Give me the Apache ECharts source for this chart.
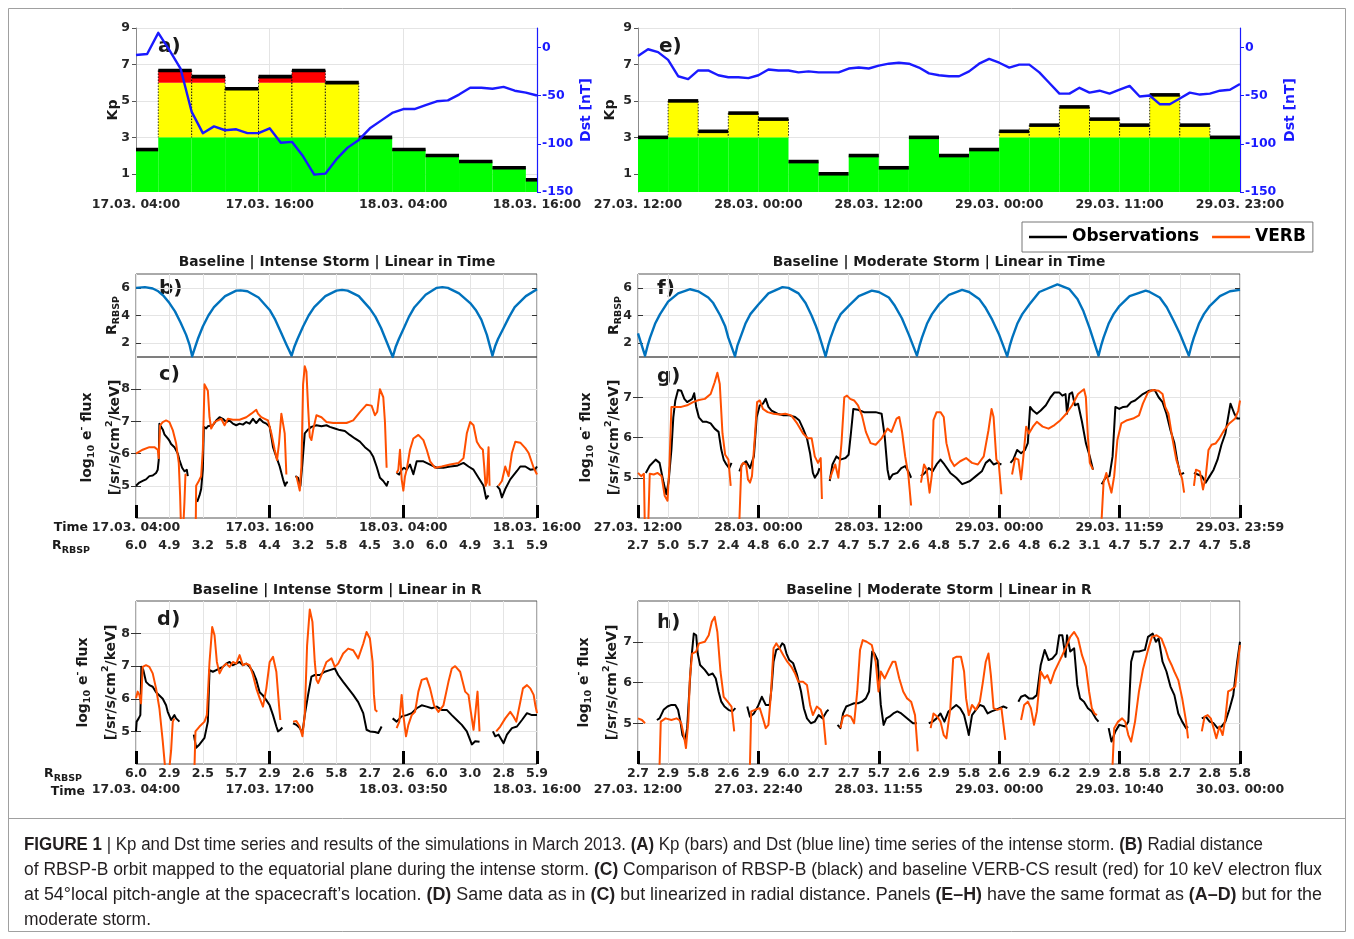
<!DOCTYPE html>
<html>
<head>
<meta charset="utf-8">
<script src="https://cdn.jsdelivr.net/npm/echarts@6/dist/echarts.min.js"></script>
<style>
html,body{margin:0;padding:0;background:#fff;}
#fig{width:1354px;height:939px;}
</style>
</head>
<body>
<div id="fig"></div>
<script>
// ---------- data ----------
// hours are counted from the first tick of each storm (17.03 04:00 / 27.03 12:00)
const kpIntense = [2.33, 6.67, 6.33, 5.67, 6.33, 6.67, 6.0, 3.0, 2.33, 2.0, 1.67, 1.33, 0.67];
const kpIntenseStart = -1;   // first 3-h interval begins 03:00
const dstIntense = [-8, -7, 15, -3, -22, -67, -89, -82, -86, -85, -89, -89, -84, -99, -98, -113, -132, -131, -116,
  -104, -96, -84, -76, -68, -64, -64, -60, -56, -55, -49, -42, -42, -43, -41, -45, -47, -50];

const kpModerate = [3.0, 5.0, 3.33, 4.33, 4.0, 1.67, 1.0, 2.0, 1.33, 3.0, 2.0, 2.33, 3.33, 3.67, 4.67, 4.0, 3.67, 5.33, 3.67, 3.0];
const kpModerateStart = 0;
const dstModerate = [-9, -2, -5, -13, -30, -33, -24, -24, -29, -31, -31, -32, -29, -23, -24, -24, -26, -25, -26, -26,
  -26, -22, -21, -22, -19, -17, -16, -17, -21, -27, -29, -30, -30, -25, -17, -12, -16, -21, -18, -18,
  -26, -37, -48, -48, -42, -47, -45, -48, -44, -40, -51, -50, -59, -59, -53, -47, -49, -48, -45, -44, -38];

const rIntense = [[0,6.0],[0.8,6.05],[1.5,5.95],[2,5.75],[2.5,5.4],[3,4.9],[3.5,4.3],[4,3.5],[4.5,2.6],[4.8,1.9],[5.04,1.05],
  [5.3,1.7],[5.55,2.3],[6,3.2],[6.5,4.0],[7,4.6],[8,5.4],[9,5.8],[9.4,5.82],[10,5.75],[11,5.3],[12,4.4],[12.5,3.7],[13,2.8],[13.5,1.9],[13.97,1.1],
  [14.2,1.7],[14.5,2.3],[15,3.2],[15.5,4.0],[16,4.6],[17,5.4],[18,5.8],[18.5,5.85],[19,5.8],[20,5.4],[21,4.5],[21.5,3.9],[22,3.1],[22.5,2.1],[23.05,1.0],
  [23.3,1.7],[23.6,2.3],[24,3.0],[24.5,3.9],[25,4.6],[26,5.5],[27,6.0],[27.5,6.05],[28,6.0],[29,5.6],[30,4.9],[30.5,4.4],[31,3.7],[31.5,2.6],[32,1.1],
  [32.25,1.8],[32.5,2.3],[33,3.1],[33.5,3.9],[34,4.6],[35,5.4],[36,5.9]];

const rModerate = [[0,2.7],[0.35,1.9],[0.7,1.1],[0.95,1.8],[1.2,2.4],[1.7,3.4],[2.2,4.1],[3,5.0],[4,5.6],[5.2,5.9],[6,5.75],[7,5.3],[7.5,4.9],[8.2,4.0],[8.7,3.2],[9,2.4],[9.67,1.05],
  [9.9,1.8],[10.2,2.4],[10.7,3.4],[11.2,4.1],[12,4.8],[13,5.6],[14.4,6.05],[15,6.0],[16,5.6],[16.7,4.9],[17.3,4.0],[17.7,3.3],[18,2.7],[18.7,1.05],
  [18.95,1.8],[19.2,2.4],[19.7,3.4],[20.2,4.1],[21,4.7],[22,5.4],[23.3,5.8],[24,5.7],[25,5.3],[25.6,4.7],[26.3,3.8],[27,2.6],[27.8,1.1],
  [28.05,1.8],[28.3,2.4],[28.8,3.4],[29.3,4.1],[30,4.8],[31,5.5],[32.3,5.85],[33,5.7],[34,5.2],[34.6,4.6],[35.3,3.7],[36,2.6],[36.8,1.05],
  [37.05,1.8],[37.3,2.4],[37.8,3.4],[38.3,4.1],[39,4.8],[40,5.7],[41.8,6.25],[42,6.2],[43,5.9],[43.8,5.2],[44.4,4.3],[45,3.1],[45.9,1.1],
  [46.15,1.8],[46.4,2.4],[46.9,3.4],[47.4,4.1],[48,4.7],[49,5.4],[50.6,5.8],[51,5.7],[52,5.3],[52.7,4.6],[53.4,3.6],[54,2.7],[54.9,1.1],
  [55.15,1.8],[55.4,2.4],[55.9,3.4],[56.4,4.1],[57,4.7],[58,5.4],[59,5.75],[60,5.85]];

// flux, log10, one inner array per continuous stretch
const obsC = [
  [[0,5.0],[0.3,5.1],[0.6,5.15],[0.9,5.2],[1.2,5.3],[1.5,5.32],[1.8,5.4],[1.95,5.5],[2.04,5.8],[2.1,6.93],[2.25,6.83],[2.4,6.75],[2.55,6.6],[2.7,6.55],[2.85,6.47],[3.0,6.4],[3.15,6.3],[3.3,6.28],[3.45,6.2],[3.6,6.1],[3.75,6.0],[3.9,5.8],[4.05,5.65],[4.14,5.56],[4.35,5.45],[4.56,5.5],[4.65,5.3]],
  [[5.49,4.5],[5.7,4.7],[5.85,4.9],[6.0,5.5],[6.09,6.83],[6.3,6.78],[6.45,6.85],[6.6,6.88],[6.9,6.88],[7.05,6.95],[7.2,7.03],[7.5,7.13],[7.8,7.08],[8.1,6.98],[8.4,7.03],[8.7,6.93],[9.0,6.88],[9.3,6.93],[9.6,6.9],[9.9,6.98],[10.2,6.93],[10.5,7.08],[10.8,6.95],[11.1,7.08],[11.4,6.98],[11.7,6.93],[12.0,6.83],[12.15,6.52],[12.3,6.2],[12.6,5.9],[12.9,5.6],[13.2,5.2],[13.38,5.0],[13.5,5.1],[13.65,5.1]],
  [[14.31,5.3],[14.55,5.25],[14.76,5.0],[14.94,5.7],[15.15,6.63],[15.45,6.75],[15.75,6.83],[16.2,6.88],[16.65,6.85],[17.1,6.88],[17.4,6.83],[17.85,6.78],[18.3,6.73],[18.75,6.7],[19.2,6.58],[19.65,6.47],[20.1,6.37],[20.55,6.2],[21.0,6.07],[21.3,5.9],[21.6,5.6],[21.9,5.25],[22.2,5.15],[22.5,5.0],[22.65,5.15]],
  [[23.4,5.4],[23.64,5.35],[23.85,5.5],[24.06,5.56],[24.3,5.5],[24.6,5.66],[24.9,5.36],[25.2,5.76],[25.8,5.76],[26.4,5.66],[27.0,5.56],[27.6,5.56],[28.2,5.6],[28.8,5.62],[29.4,5.71],[29.85,5.6],[30.3,5.5],[30.75,5.25],[31.2,5.0],[31.44,4.6],[31.65,4.7]],
  [[32.4,5.0],[32.64,4.9],[32.85,4.64],[33.15,4.9],[33.6,5.2],[34.2,5.46],[34.5,5.6],[34.95,5.6],[35.4,5.5],[35.85,5.52],[36,5.6]]
];
const verbC = [
  [[0,6.0],[0.6,6.12],[1.2,6.2],[1.65,6.2],[1.95,6.12],[2.04,5.86],[2.16,6.88],[2.4,6.98],[2.7,7.03],[3.0,6.98],[3.3,6.73],[3.6,6.32],[3.84,5.71],[3.96,4.7],[4.05,3.6],[4.2,3.4],[4.35,4.5],[4.44,5.35],[4.5,5.3]],
  [[5.34,3.0],[5.4,5.0],[5.64,5.15],[5.85,5.3],[6.0,6.12],[6.15,8.15],[6.3,8.2],[6.45,7.95],[6.6,7.13],[6.75,6.78],[7.05,6.98],[7.35,7.03],[7.65,7.08],[7.95,6.88],[8.25,7.08],[8.7,7.05],[9.3,7.05],[9.9,7.13],[10.35,7.24],[10.8,7.36],[10.95,7.24],[11.25,7.13],[11.55,7.08],[11.85,7.03],[12.15,6.63],[12.45,6.12],[12.66,5.8],[12.84,6.32],[13.05,7.24],[13.2,7.29],[13.35,6.63],[13.5,5.35]],
  [[14.4,5.3],[14.55,5.25],[14.7,4.85],[14.85,5.6],[15.0,8.15],[15.15,8.71],[15.3,8.55],[15.45,7.44],[15.6,6.52],[15.75,6.42],[15.9,6.73],[16.2,7.19],[16.65,7.13],[17.1,6.98],[17.7,6.95],[18.3,6.95],[18.9,6.95],[19.5,7.03],[20.1,7.29],[20.7,7.52],[21.15,7.49],[21.45,7.19],[21.66,7.3],[21.9,8.0],[22.05,8.05],[22.2,7.75],[22.35,6.98],[22.5,5.56]],
  [[23.4,5.4],[23.55,5.5],[23.7,6.12],[23.85,5.2],[24.0,4.85],[24.15,5.3],[24.3,5.5],[24.6,6.12],[24.9,6.47],[25.35,6.58],[25.8,6.42],[26.1,6.12],[26.4,5.76],[26.85,5.56],[27.45,5.6],[28.2,5.66],[28.95,5.71],[29.4,5.86],[29.7,6.63],[30.0,6.98],[30.3,6.88],[30.6,6.37],[30.9,6.2],[31.14,6.12],[31.26,5.6],[31.38,5.0],[31.5,5.1],[31.65,6.2],[31.74,5.0]],
  [[32.55,5.0],[32.85,5.15],[33.15,5.6],[33.3,5.65],[33.45,5.3],[33.75,6.02],[34.05,6.37],[34.5,6.34],[34.95,6.17],[35.25,6.02],[35.7,5.56],[36,5.35]]
];
const obsD = [
  [[0,5.0],[0.06,5.3],[0.24,5.4],[0.39,5.5],[0.48,6.98],[0.66,6.88],[0.9,6.52],[1.2,6.42],[1.5,6.37],[1.8,6.2],[2.1,6.1],[2.4,6.0],[2.55,6.05],[2.7,5.8],[2.85,5.6],[3.15,5.35],[3.45,5.5],[3.6,5.4],[3.9,5.3]],
  [[5.19,4.9],[5.4,4.5],[5.7,4.6],[6.15,4.8],[6.45,5.3],[6.6,6.88],[6.9,6.83],[7.2,6.88],[7.5,6.93],[7.8,6.98],[8.1,7.08],[8.4,7.13],[8.7,7.03],[9.0,7.08],[9.3,7.13],[9.6,7.03],[9.9,7.08],[10.2,6.98],[10.5,6.83],[10.8,6.58],[11.1,6.2],[11.4,6.1],[11.7,5.96],[12.0,5.8],[12.3,5.5],[12.6,5.15],[12.75,5.0],[12.96,5.05],[13.14,5.12]],
  [[14.1,5.25],[14.4,5.2],[14.7,5.1],[14.94,4.95],[15.15,5.5],[15.45,6.12],[15.75,6.68],[16.05,6.73],[16.5,6.73],[16.95,6.83],[17.4,6.88],[17.85,6.93],[18.15,6.73],[18.6,6.52],[19.05,6.32],[19.5,6.12],[19.95,5.9],[20.4,5.56],[20.7,5.05],[21.0,5.0],[21.45,4.98],[21.75,4.95],[22.05,5.15]],
  [[23.04,5.4],[23.4,5.3],[23.85,5.46],[24.3,5.5],[24.75,5.56],[25.2,5.71],[25.65,5.8],[26.1,5.76],[26.55,5.71],[27.0,5.76],[27.45,5.66],[27.9,5.66],[28.35,5.5],[28.8,5.35],[29.25,5.2],[29.7,5.0],[30.15,4.6],[30.45,4.7],[30.84,4.68]],
  [[32.04,5.0],[32.25,4.85],[32.55,4.9],[33.0,4.64],[33.3,4.9],[33.75,5.1],[34.2,5.15],[34.65,5.35],[35.1,5.56],[35.55,5.5],[36,5.5]]
];
const verbD = [
  [[0,6.02],[0.15,6.22],[0.3,6.12],[0.45,5.86],[0.6,6.98],[0.9,7.03],[1.2,6.98],[1.5,6.78],[1.8,6.32],[2.1,5.71],[2.4,4.7],[2.61,3.9],[2.75,3.3],[3.0,3.9],[3.15,4.4],[3.3,5.3],[3.45,5.4]],
  [[5.25,3.9],[5.34,5.0],[5.7,5.15],[6.15,5.3],[6.36,5.5],[6.6,7.13],[6.84,8.2],[7.05,7.95],[7.26,7.13],[7.5,6.78],[7.8,6.98],[8.1,7.08],[8.4,6.98],[8.7,7.13],[9.0,7.08],[9.3,7.34],[9.6,7.03],[9.9,7.08],[10.2,7.03],[10.5,6.73],[10.8,6.32],[11.1,6.02],[11.4,5.76],[11.7,6.32],[12.0,7.13],[12.3,7.29],[12.6,6.83],[12.84,5.8],[12.96,5.35]],
  [[14.1,5.3],[14.4,5.32],[14.7,5.15],[14.94,4.85],[15.15,5.5],[15.36,7.64],[15.6,8.74],[15.84,8.36],[16.05,7.13],[16.2,6.58],[16.35,6.48],[16.65,6.73],[17.1,7.13],[17.55,7.24],[17.85,6.98],[18.15,7.08],[18.6,7.39],[19.05,7.54],[19.5,7.49],[19.95,7.24],[20.1,7.19],[20.4,7.69],[20.7,8.05],[21.0,7.85],[21.24,7.13],[21.36,6.12],[21.48,5.66],[21.66,5.6]],
  [[23.4,5.1],[23.64,5.3],[23.85,6.12],[24.0,5.5],[24.24,4.85],[24.45,5.2],[24.75,5.5],[25.05,5.6],[25.35,6.22],[25.65,6.58],[26.1,6.63],[26.4,6.32],[26.76,5.8],[27.15,5.6],[27.6,5.8],[28.05,6.52],[28.35,6.93],[28.65,7.0],[29.1,6.83],[29.55,6.22],[29.85,6.12],[30.06,5.6],[30.3,5.05],[30.48,5.6],[30.66,6.22],[30.84,5.0]],
  [[32.34,5.0],[32.7,5.15],[33.15,5.4],[33.6,5.6],[33.9,5.45],[34.14,5.3],[34.44,5.8],[34.74,6.32],[35.1,6.42],[35.4,6.32],[35.7,6.12],[35.85,5.8],[36,5.56]]
];
const obsG = [
  [[0.78,5.12],[1.17,5.3],[1.76,5.45],[2.15,5.37],[2.55,4.88],[2.82,4.59],[3.05,4.9],[3.33,5.7],[3.52,6.5],[3.72,6.92],[3.99,7.18],[4.31,7.16],[4.62,6.96],[4.9,6.88],[5.17,6.92],[5.4,6.96],[5.6,7.1],[5.8,6.76],[6.07,6.5],[6.46,6.39],[6.85,6.39],[7.24,6.35],[7.64,6.22],[8.03,6.14],[8.3,5.7],[8.54,5.45],[8.81,5.33],[9.09,5.24],[9.32,5.37]],
  [[10.1,5.16],[10.38,5.33],[10.77,5.41],[11.16,5.24],[11.55,5.53],[11.83,6.51],[12.14,6.8],[12.45,6.84],[12.73,6.96],[13.0,6.76],[13.31,6.67],[13.9,6.59],[14.49,6.55],[15.08,6.55],[15.66,6.51],[16.06,6.43],[16.45,6.22],[16.84,5.98],[17.15,5.61],[17.43,5.12],[17.62,5.0],[17.94,5.12],[18.09,5.24]],
  [[19.11,4.92],[19.38,5.33],[19.78,5.53],[20.17,5.45],[20.68,5.49],[20.99,5.57],[21.22,6.1],[21.46,6.71],[21.93,6.69],[22.52,6.63],[23.1,6.63],[23.69,6.63],[24.28,6.59],[24.59,6.02],[24.87,5.2],[25.06,4.96],[25.38,5.08],[25.85,5.12],[26.24,5.24],[26.63,5.29],[27.02,5.12],[27.22,5.0]],
  [[28.2,5.04],[28.59,5.12],[28.98,5.24],[29.37,5.16],[29.76,5.33],[30.15,5.45],[30.54,5.33],[31.13,5.12],[31.72,5.0],[32.31,4.84],[32.7,4.88],[33.09,4.92],[33.68,5.04],[34.27,5.16],[34.66,5.37],[35.05,5.45],[35.44,5.33],[35.83,5.37],[36.22,5.33]],
  [[37.12,5.37],[37.4,5.45],[37.79,5.69],[38.18,5.61],[38.57,5.69],[38.85,5.86],[39.08,6.76],[39.36,6.67],[39.75,6.59],[40.14,6.67],[40.65,6.8],[41.12,7.0],[41.51,7.12],[41.98,7.12],[42.29,7.04],[42.61,7.08],[42.76,6.59],[43.0,7.08],[43.27,7.12],[43.55,6.8],[43.86,6.84],[44.25,6.39],[44.64,5.86],[45.03,5.53],[45.35,5.2]],
  [[46.21,4.84],[46.6,5.0],[46.99,5.04],[47.3,5.53],[47.58,6.76],[47.97,6.71],[48.36,6.76],[48.75,6.77],[49.15,6.88],[49.54,6.92],[49.93,7.0],[50.32,7.08],[50.91,7.16],[51.5,7.18],[51.89,7.0],[52.28,6.88],[52.67,6.59],[53.07,6.18],[53.46,5.86],[53.73,5.45],[54.04,5.08],[54.43,5.12]],
  [[55.41,5.12],[55.8,5.08],[56.19,5.04],[56.59,4.88],[56.98,5.04],[57.37,5.2],[57.76,5.45],[58.15,5.82],[58.54,6.1],[59.05,6.84],[59.44,6.59],[59.72,6.47],[60,6.47]]
];
const verbG = [
  [[0,5.12],[0.31,5.04],[0.59,5.1],[0.7,3.5],[0.98,3.5],[1.17,5.1],[1.57,5.08],[1.96,5.12],[2.35,5.04],[2.66,4.55],[2.94,4.43],[3.13,5.29],[3.33,6.76],[3.72,6.76],[4.31,6.76],[4.9,6.8],[5.48,6.88],[6.07,6.93],[6.66,6.96],[7.24,7.08],[7.64,7.37],[7.91,7.61],[8.15,7.33],[8.42,6.1],[8.69,5.57],[9.01,5.45],[9.24,4.8]],
  [[10.1,3.9],[10.3,5.3],[10.5,5.37],[10.77,5.33],[10.96,4.96],[11.16,4.88],[11.36,5.04],[11.67,6.1],[11.87,6.88],[12.14,6.92],[12.45,6.71],[12.92,6.63],[13.51,6.59],[14.1,6.57],[14.69,6.59],[15.27,6.55],[15.86,6.35],[16.45,6.1],[16.92,5.98],[17.31,5.98],[17.62,5.53],[17.94,5.37],[18.21,5.49],[18.33,4.47]],
  [[19.11,4.96],[19.38,5.16],[19.66,5.33],[19.97,5.0],[20.28,5.86],[20.56,7.0],[20.83,7.04],[21.15,6.96],[21.54,6.92],[21.93,6.8],[22.32,6.55],[22.71,6.14],[23.18,5.86],[23.69,5.82],[24.28,5.98],[24.87,6.22],[25.26,6.14],[25.77,6.47],[26.04,6.51],[26.32,6.14],[26.63,5.53],[26.94,5.08],[27.22,4.31]],
  [[28.2,4.88],[28.51,5.33],[28.78,5.2],[29.06,4.63],[29.29,5.08],[29.45,6.43],[29.76,6.63],[30.15,6.63],[30.47,6.51],[30.74,5.86],[31.13,5.45],[31.52,5.29],[32.11,5.41],[32.7,5.49],[33.29,5.37],[33.87,5.33],[34.46,5.53],[34.93,6.18],[35.24,6.71],[35.44,6.51],[35.72,5.45],[35.95,5.37],[36.22,4.59]],
  [[37.28,5.08],[37.59,5.49],[37.91,5.45],[38.18,4.96],[38.38,5.45],[38.69,6.27],[38.96,6.1],[39.36,6.27],[39.75,6.39],[40.33,6.27],[40.92,6.22],[41.51,6.31],[42.1,6.43],[42.68,6.59],[43.27,6.8],[43.86,7.08],[44.45,7.2],[44.64,7.0],[44.84,6.02],[45.03,5.37],[45.35,5.2]],
  [[46.21,3.98],[46.4,4.88],[46.68,5.12],[46.91,4.88],[47.19,4.63],[47.46,5.04],[47.78,5.94],[48.17,6.35],[48.75,6.43],[49.34,6.47],[49.93,6.55],[50.32,6.84],[50.83,7.12],[51.3,7.18],[51.89,7.16],[52.28,7.08],[52.55,6.76],[52.87,6.59],[53.26,5.98],[53.65,5.45],[53.96,5.2],[54.24,4.96],[54.43,4.63]],
  [[55.41,4.8],[55.61,5.2],[56.0,5.16],[56.31,4.71],[56.59,5.04],[56.86,5.69],[57.17,5.82],[57.56,5.85],[57.95,5.98],[58.42,6.18],[58.93,6.35],[59.52,6.47],[59.83,6.67],[60,6.92]]
];
const obsH = [
  [[1.88,5.08],[2.15,5.12],[2.55,5.33],[2.94,5.41],[3.33,5.45],[3.72,5.45],[3.99,5.33],[4.23,5.04],[4.43,4.71],[4.7,4.59],[4.9,4.88],[5.09,5.69],[5.29,6.51],[5.56,7.2],[5.8,7.16],[5.95,6.71],[6.19,6.43],[6.66,6.31],[7.05,6.18],[7.44,6.22],[7.75,6.1],[8.03,5.78],[8.3,5.53],[8.62,5.41],[9.01,5.33],[9.4,5.29],[9.71,5.37]],
  [[10.89,5.41],[11.16,5.16],[11.55,5.24],[11.94,5.41],[12.34,5.65],[12.73,5.45],[13.12,5.45],[13.31,5.86],[13.51,6.51],[13.78,6.8],[14.1,6.84],[14.37,6.96],[14.57,6.92],[14.8,6.71],[15.08,6.55],[15.47,6.47],[15.86,6.18],[16.25,5.78],[16.53,5.37],[16.84,5.12],[17.23,5.0],[17.62,5.04],[18.01,5.2],[18.41,5.12],[18.8,5.29],[18.99,5.33]],
  [[19.89,4.96],[20.17,4.88],[20.44,5.24],[20.75,5.41],[21.15,5.45],[21.54,5.49],[21.93,5.49],[22.32,5.53],[22.71,5.61],[23.03,5.78],[23.18,6.27],[23.34,6.76],[23.57,6.71],[23.88,6.55],[24.2,5.45],[24.48,4.96],[24.75,5.12],[25.06,5.16],[25.45,5.24],[25.85,5.29],[26.24,5.24],[26.63,5.16],[27.02,5.08],[27.41,5.0],[27.8,5.0]],
  [[28.98,5.0],[29.37,5.04],[29.76,5.12],[30.15,5.24],[30.54,5.04],[30.94,5.29],[31.33,5.37],[31.72,5.45],[32.11,5.37],[32.5,5.2],[32.82,4.88],[32.97,4.71],[33.29,5.2],[33.68,5.33],[34.07,5.45],[34.46,5.41],[34.85,5.24],[35.24,5.29],[35.64,5.33],[36.03,5.37],[36.42,5.41],[36.81,5.37]],
  [[37.91,5.53],[38.18,5.65],[38.57,5.69],[38.96,5.61],[39.36,5.61],[39.75,5.69],[40.14,6.43],[40.53,6.8],[40.92,6.55],[41.31,6.59],[41.71,6.71],[41.98,7.16],[42.29,7.16],[42.61,6.63],[42.76,7.16],[43.08,6.76],[43.47,6.84],[43.78,5.94],[44.06,5.61],[44.45,5.53],[44.84,5.37],[45.23,5.29],[45.62,5.12],[45.9,5.04]],
  [[46.91,4.88],[47.19,4.55],[47.58,4.8],[47.97,4.96],[48.56,4.92],[48.87,5.04],[49.15,6.51],[49.42,6.76],[49.93,6.76],[50.52,6.8],[50.83,7.12],[51.3,7.2],[51.61,7.0],[51.89,7.08],[52.28,6.51],[52.67,6.27],[53.07,5.9],[53.46,5.69],[53.85,5.24],[54.24,5.04],[54.63,4.88],[54.82,4.92]],
  [[56.19,5.12],[56.59,5.16],[56.98,5.04],[57.37,5.0],[57.76,4.88],[58.15,4.92],[58.54,5.04],[58.93,5.33],[59.33,5.69],[59.72,6.51],[60,7.0]]
];
const verbH = [
  [[0,5.12],[0.39,5.08],[0.7,5.0]],
  [[2.15,3.98],[2.27,5.04],[2.74,5.12],[3.33,5.08],[3.84,5.12],[4.11,5.08],[4.31,5.0],[4.62,4.63],[4.78,4.39],[5.01,5.04],[5.17,6.1],[5.4,6.71],[5.8,6.76],[6.07,6.96],[6.66,7.0],[7.05,7.16],[7.36,7.49],[7.64,7.61],[7.91,7.24],[8.22,6.27],[8.54,5.65],[8.93,5.53],[9.32,5.41],[9.59,4.8]],
  [[11.16,3.98],[11.28,5.29],[11.67,5.33],[12.14,5.37],[12.45,5.12],[12.73,4.88],[13.0,4.96],[13.24,5.69],[13.51,6.84],[13.78,6.96],[14.1,6.84],[14.49,6.67],[14.88,6.51],[15.27,6.39],[15.66,6.22],[15.98,6.02],[16.45,6.02],[16.84,5.94],[17.15,5.45],[17.43,5.2],[17.82,5.41],[18.21,5.33],[18.48,5.12],[18.72,4.47]],
  [[20.17,4.88],[20.44,5.16],[20.83,5.2],[21.22,5.16],[21.54,5.0],[21.85,5.78],[22.13,6.8],[22.4,7.04],[22.79,7.0],[23.3,6.92],[23.69,6.51],[23.97,5.78],[24.2,6.27],[24.59,6.1],[24.98,6.31],[25.38,6.51],[25.65,6.51],[26.04,6.1],[26.43,5.78],[26.82,5.61],[27.22,5.53],[27.61,5.2],[27.88,4.31]],
  [[29.17,4.88],[29.45,5.24],[29.84,5.16],[30.15,5.04],[30.47,4.71],[30.74,4.63],[31.13,5.37],[31.41,6.59],[31.72,6.63],[32.19,6.63],[32.5,6.27],[32.7,5.61],[32.97,5.2],[33.29,5.45],[33.68,5.33],[34.07,5.53],[34.38,6.02],[34.66,6.51],[34.93,6.71],[35.17,6.18],[35.44,5.37],[35.83,5.33],[36.22,5.37],[36.61,4.59]],
  [[38.18,5.08],[38.49,5.45],[38.85,5.53],[39.16,5.37],[39.47,4.96],[39.75,5.29],[40.14,6.27],[40.53,6.1],[40.8,6.18],[41.12,5.98],[41.51,6.27],[41.9,6.47],[42.29,6.67],[42.68,6.88],[43.08,7.12],[43.47,7.24],[43.86,7.08],[44.25,6.67],[44.64,6.39],[44.96,5.78],[45.23,5.37],[45.5,5.24],[45.74,5.2]],
  [[47.3,3.98],[47.46,4.88],[47.85,5.04],[48.25,5.12],[48.56,5.04],[48.87,4.71],[49.15,4.55],[49.54,5.04],[49.93,5.78],[50.32,6.31],[50.83,6.8],[51.22,7.12],[51.69,7.16],[52.16,7.08],[52.55,6.84],[52.87,6.59],[53.18,6.43],[53.45,6.27],[53.85,6.06],[54.24,5.61],[54.63,5.04],[54.82,4.63]],
  [[56.19,4.8],[56.47,5.16],[56.78,5.2],[57.09,5.12],[57.37,4.88],[57.64,4.63],[57.95,4.92],[58.27,4.71],[58.54,5.12],[58.82,5.78],[59.13,5.82],[59.52,5.9],[59.8,6.51],[60,6.92]]
];

// tick labels
const timeLabelsA = ['17.03. 04:00', '17.03. 16:00', '18.03. 04:00', '18.03. 16:00'];
const timeLabelsE = ['27.03. 12:00', '28.03. 00:00', '28.03. 12:00', '29.03. 00:00', '29.03. 11:00', '29.03. 23:00'];
const timeLabelsC = ['17.03. 04:00', '17.03. 16:00', '18.03. 04:00', '18.03. 16:00'];
const rLabelsC = ['6.0', '4.9', '3.2', '5.8', '4.4', '3.2', '5.8', '4.5', '3.0', '6.0', '4.9', '3.1', '5.9'];
const timeLabelsD = ['17.03. 04:00', '17.03. 17:00', '18.03. 03:50', '18.03. 16:00'];
const rLabelsD = ['6.0', '2.9', '2.5', '5.7', '2.9', '2.6', '5.8', '2.7', '2.6', '6.0', '3.0', '2.8', '5.9'];
const timeLabelsG = ['27.03. 12:00', '28.03. 00:00', '28.03. 12:00', '29.03. 00:00', '29.03. 11:59', '29.03. 23:59'];
const rLabelsG = ['2.7', '5.0', '5.7', '2.4', '4.8', '6.0', '2.7', '4.7', '5.7', '2.6', '4.8', '5.7', '2.6', '4.8', '6.2', '3.1', '4.7', '5.7', '2.7', '4.7', '5.8'];
const timeLabelsH = ['27.03. 12:00', '27.03. 22:40', '28.03. 11:55', '29.03. 00:00', '29.03. 10:40', '30.03. 00:00'];
const rLabelsH = ['2.7', '2.9', '5.8', '2.6', '2.9', '6.0', '2.7', '2.7', '5.7', '2.6', '2.9', '5.8', '2.6', '2.9', '6.2', '2.9', '2.8', '5.8', '2.7', '2.8', '5.8'];

// ---------- styling ----------
const FONT = 'DejaVu Sans';
const INK = '#1a1a1a';
const C_OBS = '#000000', C_VERB = '#ff4f00', C_R = '#0072bd', C_DST = '#1a1aff';
const tickText = {fontFamily: FONT, fontWeight: 'bold', fontSize: 12.5, color: '#262626'};
const gridLine = {show: true, lineStyle: {color: '#e4e4e4', width: 1}};
const richName = {
  sub: {fontFamily: FONT, fontWeight: 'bold', fontSize: 9.5, color: INK, padding: [10, 0, 0, 0]},
  sup: {fontFamily: FONT, fontWeight: 'bold', fontSize: 9.5, color: INK, padding: [0, 0, 10, 0]}
};
const nameStyle = {fontFamily: FONT, fontWeight: 'bold', fontSize: 14, color: INK, rich: richName, lineHeight: 28};

const chart = echarts.init(document.getElementById('fig'));

const grid = [
  {left: 136, top: 28, width: 401, height: 164, show: false},   // a
  {left: 638, top: 28, width: 602, height: 164, show: false},   // e
  {left: 136, top: 274, width: 401, height: 83},  // b
  {left: 136, top: 357, width: 401, height: 161}, // c
  {left: 638, top: 274, width: 602, height: 83},  // f
  {left: 638, top: 357, width: 602, height: 161}, // g
  {left: 136, top: 601, width: 401, height: 163}, // d
  {left: 638, top: 601, width: 602, height: 163}  // h
].map(g => Object.assign({show: true, containLabel: false, outerBoundsMode: 'none', borderColor: '#555', borderWidth: 1}, g));

const xAxis = [], yAxis = [];
const addX = a => xAxis.push(Object.assign({type: 'value', position: 'bottom', axisLine: {show: false}}, a)) - 1;
const addY = a => yAxis.push(Object.assign({type: 'value', axisLine: {show: false}, nameMoveOverlap: false}, a)) - 1;
const marks = n => Array.from({length: n}, (_, i) => i * 12);

// top row: time axis with labels every 12 h
function kpTimeAxis(grid, max, labels) {
  const vals = marks(labels.length);
  return addX({gridIndex: grid, min: 0, max,
    axisTick: {show: false, customValues: vals},
    axisLabel: Object.assign({customValues: vals, margin: 6, formatter: v => labels[Math.round(v / 12)]}, tickText),
    splitLine: gridLine});
}
// hidden axis carrying the 3-h grid
function gridAxis(grid, max) {
  return addX({gridIndex: grid, min: 0, max, interval: 3, axisTick: {show: false}, axisLabel: {show: false}, splitLine: gridLine});
}
function rowAxis(grid, max, labels, offset, step) {
  return addX({gridIndex: grid, min: 0, max, interval: step, offset,
    axisTick: {show: false}, axisLabel: Object.assign({margin: 3, formatter: v => labels[Math.round(v / step)]}, tickText),
    splitLine: {show: false}});
}
function bigTicks(grid, max, labels) {
  const vals = marks(Math.round(max / 12) + 1);
  return addX({gridIndex: grid, min: 0, max,
    axisTick: {show: true, inside: true, length: 13, customValues: vals, lineStyle: {color: '#000', width: 3}},
    axisLabel: labels ? Object.assign({customValues: vals, margin: 3, formatter: v => labels[Math.round(v / 12)]}, tickText) : {show: false},
    splitLine: {show: false}});
}
function kpAxis(grid, gap) {
  return addY({gridIndex: grid, min: 0, max: 9,
    axisLine: {show: true, lineStyle: {color: '#8c8c8c'}},
    axisTick: {show: true, length: 4, customValues: [1, 3, 5, 7, 9], lineStyle: {color: '#555'}},
    axisLabel: Object.assign({customValues: [1, 3, 5, 7, 9], margin: 6}, tickText),
    splitLine: gridLine, name: 'Kp', nameLocation: 'middle', nameRotate: 90, nameGap: gap, nameTextStyle: nameStyle});
}
function dstAxis(grid, gap) {
  return addY({gridIndex: grid, position: 'right', min: -150, max: 20,
    axisLine: {show: true, lineStyle: {color: C_DST, width: 1.2}},
    axisTick: {show: true, length: 4, customValues: [-150, -100, -50, 0], lineStyle: {color: C_DST}},
    axisLabel: Object.assign({}, tickText, {customValues: [-150, -100, -50, 0], margin: 5, color: C_DST}),
    splitLine: {show: false}, name: 'Dst [nT]', nameLocation: 'middle', nameRotate: 90, nameGap: gap,
    nameTextStyle: Object.assign({}, nameStyle, {color: C_DST})});
}
function valAxis(grid, min, max, ticks, name, gap) {
  return addY({gridIndex: grid, min, max,
    axisTick: {show: true, inside: true, length: 5, customValues: ticks, lineStyle: {color: '#333'}},
    axisLabel: Object.assign({customValues: ticks, margin: 6}, tickText),
    splitLine: gridLine, name, nameLocation: 'middle', nameRotate: 90, nameGap: gap, nameTextStyle: nameStyle});
}
// right-hand box ticks
function boxTicks(grid, min, max, ticks) {
  return addY({gridIndex: grid, position: 'right', min, max,
    axisTick: {show: true, inside: true, length: 5, customValues: ticks, lineStyle: {color: '#333'}},
    axisLabel: {show: false}, splitLine: {show: false}});
}

const FLUX = 'log{sub|10} e{sup|-} flux\n[/sr/s/cm{sup|2}/keV]';
const RNAME = 'R{sub|RBSP}';

// a / e
const xa = kpTimeAxis(0, 36, timeLabelsA);
const ya = kpAxis(0, 9), yaD = dstAxis(0, 35);
const xe = kpTimeAxis(1, 60, timeLabelsE);
const ye = kpAxis(1, 14), yeD = dstAxis(1, 36);
// b / f
const xb = gridAxis(2, 36), yb = valAxis(2, 1, 7, [2, 4, 6], RNAME, 10); boxTicks(2, 1, 7, [2, 4, 6]);
const xf = gridAxis(4, 60), yf = valAxis(4, 1, 7, [2, 4, 6], RNAME, 10); boxTicks(4, 1, 7, [2, 4, 6]);
// c / g : time row then R row
const xc = bigTicks(3, 36, timeLabelsC); gridAxis(3, 36); rowAxis(3, 36, rLabelsC, 18, 3);
const yc = valAxis(3, 4, 9, [5, 6, 7, 8], FLUX, 7); boxTicks(3, 4, 9, [5, 6, 7, 8]);
const xg = bigTicks(5, 60, timeLabelsG); gridAxis(5, 60); rowAxis(5, 60, rLabelsG, 18, 3);
const yg = valAxis(5, 4, 8, [5, 6, 7], FLUX, 10); boxTicks(5, 4, 8, [5, 6, 7]);
// d / h : R row then time row
const xd = bigTicks(6, 36, null); gridAxis(6, 36); rowAxis(6, 36, rLabelsD, 0, 3); rowAxis(6, 36, timeLabelsD, 16, 12);
const yd = valAxis(6, 4, 9, [5, 6, 7, 8], FLUX, 11); boxTicks(6, 4, 9, [5, 6, 7, 8]);
const xh = bigTicks(7, 60, null); gridAxis(7, 60); rowAxis(7, 60, rLabelsH, 0, 3); rowAxis(7, 60, timeLabelsH, 16, 12);
const yh = valAxis(7, 4, 8, [5, 6, 7], FLUX, 12); boxTicks(7, 4, 8, [5, 6, 7]);

// ---------- series ----------
function kpBars(values, start) {
  return values.map((k, i) => [start + 3 * i, start + 3 * i + 3, k]);
}
function renderKp(params, api) {
  const t0 = api.value(0), t1 = api.value(1), kp = api.value(2);
  const cs = params.coordSys;
  const box = {x: cs.x, y: cs.y, width: cs.width, height: cs.height};
  const kids = [];
  [[0, Math.min(kp, 3), '#00ff00'], [3, Math.min(kp, 6), '#ffff00'], [6, kp, '#ff0000']].forEach(([lo, hi, fill]) => {
    if (hi <= lo) return;
    const p = api.coord([t0, hi]), q = api.coord([t1, lo]);
    const r = echarts.graphic.clipRectByRect({x: p[0], y: p[1], width: q[0] - p[0], height: q[1] - p[1]}, box);
    if (r) kids.push({type: 'rect', shape: r, style: {fill}});
  });
  const p = api.coord([t0, kp]), q = api.coord([t1, kp]);
  const cap = echarts.graphic.clipRectByRect({x: p[0], y: p[1] - 1.8, width: q[0] - p[0], height: 3.6}, box);
  if (cap) kids.push({type: 'rect', shape: cap, style: {fill: '#000'}});
  if (kp > 3) {
    const y3 = api.coord([t0, 3])[1];
    [p[0], q[0]].forEach(x => {
      if (x >= cs.x && x <= cs.x + cs.width) {
        kids.push({type: 'line', shape: {x1: x, y1: p[1], x2: x, y2: y3}, style: {stroke: '#000', lineWidth: 0.8, lineDash: [1.5, 1.5]}});
      }
    });
  }
  return {type: 'group', children: kids};
}
function joinSegments(segs) {
  const out = [];
  segs.forEach((s, i) => {
    if (i) out.push([s[0][0], null]);
    s.forEach(p => out.push(p));
  });
  return out;
}
function line(name, x, y, data, color, width) {
  return {type: 'line', name, xAxisIndex: x, yAxisIndex: y, data, symbol: 'none', showSymbol: false,
    connectNulls: false, clip: true, itemStyle: {color}, lineStyle: {color, width, join: 'round'}, z: 3};
}

const series = [
  {type: 'custom', name: 'Kp', xAxisIndex: xa, yAxisIndex: ya, renderItem: renderKp, encode: {x: [0, 1], y: 2}, data: kpBars(kpIntense, kpIntenseStart), z: 1},
  line('Dst', xa, yaD, dstIntense.map((v, i) => [i, v]), C_DST, 2.4),
  {type: 'custom', name: 'Kp', xAxisIndex: xe, yAxisIndex: ye, renderItem: renderKp, encode: {x: [0, 1], y: 2}, data: kpBars(kpModerate, kpModerateStart), z: 1},
  line('Dst', xe, yeD, dstModerate.map((v, i) => [i, v]), C_DST, 2.4),
  line('R', xb, yb, rIntense, C_R, 2.4),
  line('R', xf, yf, rModerate, C_R, 2.4),
  line('Observations', xc, yc, joinSegments(obsC), C_OBS, 2),
  line('VERB', xc, yc, joinSegments(verbC), C_VERB, 2),
  line('Observations', xg, yg, joinSegments(obsG), C_OBS, 2),
  line('VERB', xg, yg, joinSegments(verbG), C_VERB, 2),
  line('Observations', xd, yd, joinSegments(obsD), C_OBS, 2),
  line('VERB', xd, yd, joinSegments(verbD), C_VERB, 2),
  line('Observations', xh, yh, joinSegments(obsH), C_OBS, 2),
  line('VERB', xh, yh, joinSegments(verbH), C_VERB, 2)
];

// ---------- static text ----------
function txt(x, y, text, extra) {
  return {type: 'text', x, y, silent: true, style: Object.assign({text, fontFamily: FONT, fontWeight: 'bold', fontSize: 13.8,
    fill: INK, align: 'left', verticalAlign: 'middle'}, extra)};
}
const richSmall = {sub: {fontFamily: FONT, fontWeight: 'bold', fontSize: 9.5, fill: INK, padding: [9, 0, 0, 0]}};
const CAP = 'Liberation Sans';
const CAP_SIZE = 18;
const capRich = {b: {fontFamily: CAP, fontWeight: 'bold', fontSize: CAP_SIZE, fill: '#231f20'}};
const captionLines = [
  '{b|FIGURE 1} | Kp and Dst time series and results of the simulations in March 2013. {b|(A)} Kp (bars) and Dst (blue line) time series of the intense storm. {b|(B)} Radial distance',
  'of RBSP-B orbit mapped to the equatorial plane during the intense storm. {b|(C)} Comparison of RBSP-B (black) and baseline VERB-CS result (red) for 10 keV electron flux',
  'at 54\u00b0local pitch-angle at the spacecraft\u2019s location. {b|(D)} Same data as in {b|(C)} but linearized in radial distance. Panels {b|(E\u2013H)} have the same format as {b|(A\u2013D)} but for the',
  'moderate storm.'
];
// widths the caption lines take in the figure (last line follows the second one)
const captionWidths = [1239, 1298, 1298, null];
function measureLine(line) {
  const ctx = document.createElement('canvas').getContext('2d');
  let w = 0;
  line.split(/(\{b\|[^}]*\})/).forEach(part => {
    const bold = part.startsWith('{b|');
    ctx.font = (bold ? 'bold ' : '') + CAP_SIZE + 'px "' + CAP + '"';
    w += ctx.measureText(bold ? part.slice(3, -1) : part).width;
  });
  return w;
}
const baseScale = captionWidths[1] / measureLine(captionLines[1]);

const graphic = [
  {type: 'rect', silent: true, shape: {x: 8.5, y: 8.5, width: 1337, height: 923}, style: {fill: 'none', stroke: '#a0a0a0', lineWidth: 1}},
  {type: 'line', silent: true, shape: {x1: 8.5, y1: 818.5, x2: 1345.5, y2: 818.5}, style: {stroke: '#a0a0a0', lineWidth: 1}},
  txt(158, 47, 'a)', {fontSize: 20}), txt(659, 47, 'e)', {fontSize: 20}),
  txt(159, 289, 'b)', {fontSize: 20}), txt(657, 289, 'f)', {fontSize: 20}),
  txt(159, 375, 'c)', {fontSize: 20}), txt(657, 377, 'g)', {fontSize: 20}),
  txt(157, 620, 'd)', {fontSize: 20}), txt(657, 623, 'h)', {fontSize: 20}),
  txt(337, 262, 'Baseline | Intense Storm | Linear in Time', {align: 'center'}),
  txt(939, 262, 'Baseline | Moderate Storm | Linear in Time', {align: 'center'}),
  txt(337, 590, 'Baseline | Intense Storm | Linear in R', {align: 'center'}),
  txt(939, 590, 'Baseline | Moderate Storm | Linear in R', {align: 'center'}),
  txt(88, 528, 'Time', {fontSize: 12.5, align: 'right'}),
  txt(52, 546, 'R{sub|RBSP}', {fontSize: 12.5, rich: richSmall}),
  txt(44, 774, 'R{sub|RBSP}', {fontSize: 12.5, rich: richSmall}),
  txt(85, 792, 'Time', {fontSize: 12.5, align: 'right'})
];
captionLines.forEach((t, i) => {
  const sx = captionWidths[i] ? captionWidths[i] / measureLine(t) : baseScale;
  graphic.push({type: 'text', x: 24, y: 845 + i * 25, scaleX: sx, silent: true,
    style: {text: t, fontFamily: CAP, fontSize: CAP_SIZE, fontWeight: 'normal', fill: '#231f20', verticalAlign: 'middle', rich: capRich}});
});

chart.setOption({
  animation: false,
  backgroundColor: '#ffffff',
  grid, xAxis, yAxis, series, graphic,
  legend: {
    data: ['Observations', 'VERB'], left: 1022, top: 222, orient: 'horizontal',
    icon: 'rect', itemWidth: 38, itemHeight: 2.5, itemGap: 13, selectedMode: false,
    padding: [6.5, 7], borderColor: '#777', borderWidth: 1, backgroundColor: '#fff',
    textStyle: {fontFamily: FONT, fontWeight: 'bold', fontSize: 17, color: '#000'}
  }
});
</script>
</body>
</html>
